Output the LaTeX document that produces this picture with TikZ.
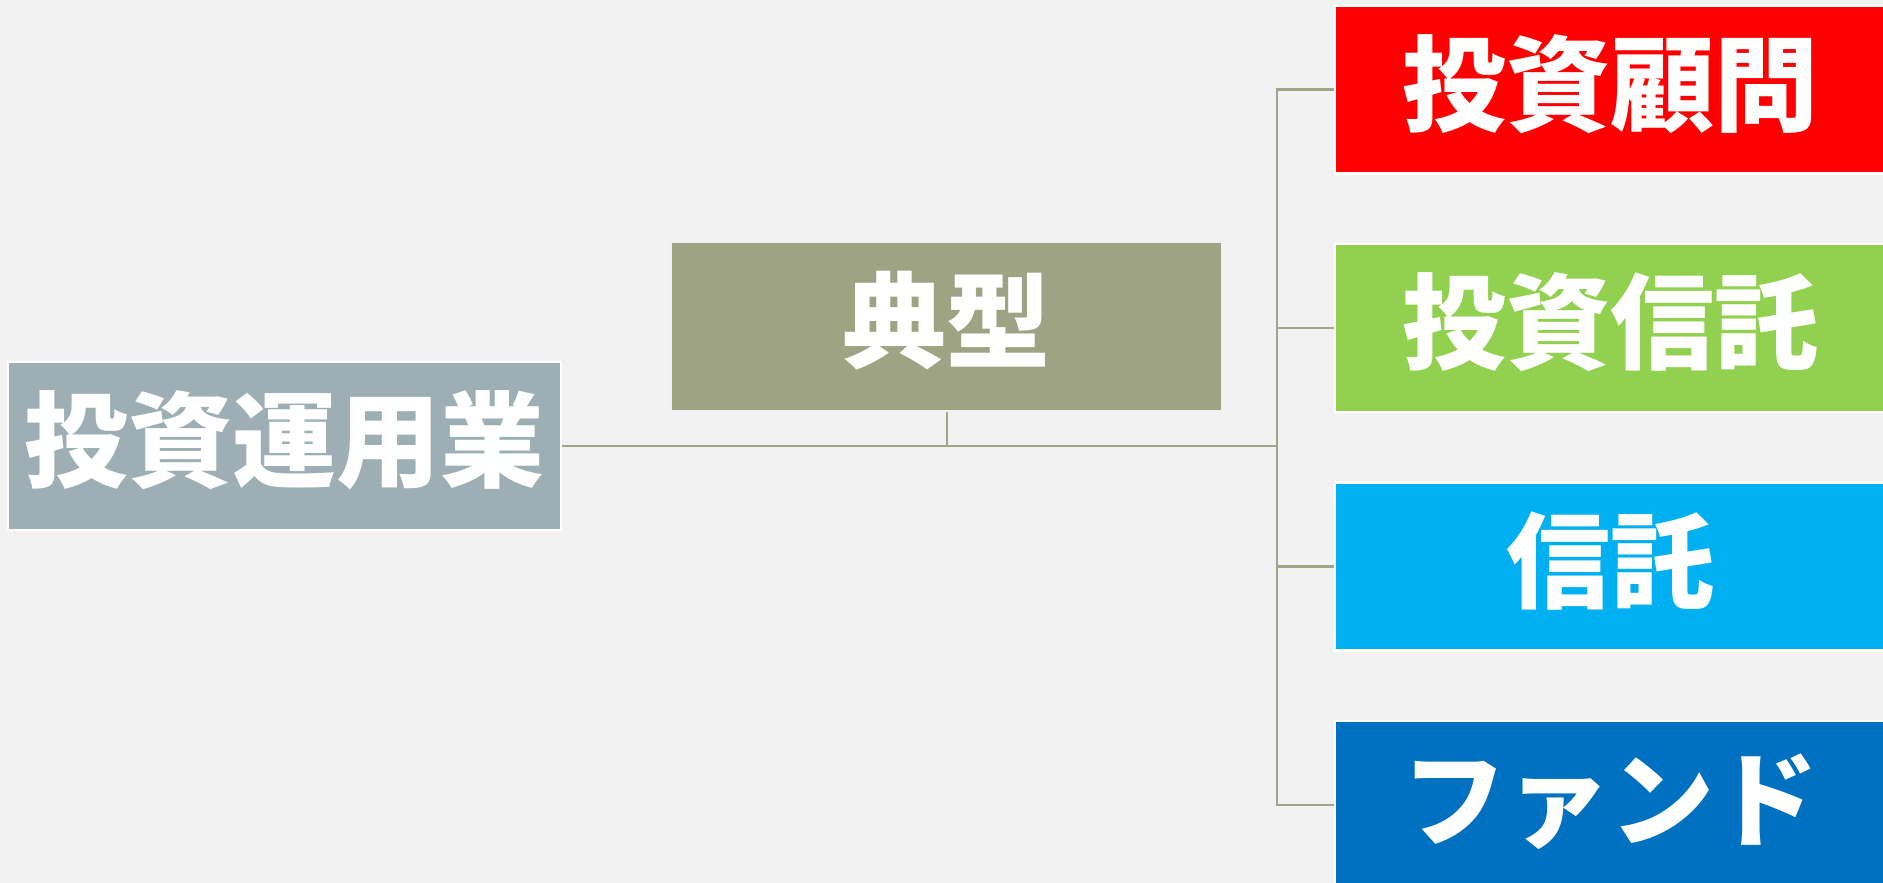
\documentclass[tikz,border=0pt]{standalone}
\usepackage{fontspec}
\newfontfamily\cjk{Noto Sans CJK JP}
\definecolor{bg}{HTML}{F2F2F2}
\definecolor{leftcol}{HTML}{9DAFB5}
\definecolor{midcol}{HTML}{9DA383}
\definecolor{linecol}{HTML}{A0A688}
\definecolor{redcol}{HTML}{FF0000}
\definecolor{greencol}{HTML}{92D050}
\definecolor{cyancol}{HTML}{00B0F0}
\definecolor{bluecol}{HTML}{0070C0}
\begin{document}
\begin{tikzpicture}[x=1pt,y=-1pt,
  box/.style={rectangle, minimum width=551pt, minimum height=168pt, draw=white,
    line width=2.5pt, text=white, inner sep=0pt, text height=90pt, text depth=23pt,
    font=\cjk\bfseries\fontsize{104}{110}\selectfont},
  conn/.style={draw=linecol, line width=2.8pt, line join=miter}]
\fill[bg] (0,0) rectangle (1883,883);
\useasboundingbox (0,0) rectangle (1883,883);
\clip (0,0) rectangle (1883,883);

\node[box, fill=leftcol, minimum width=553pt] (left) at (284.5,446) {投資運用業};
\node[box, fill=midcol, draw=white!88!gray, minimum height=169pt] (mid) at (946.5,326.5) {典型};
\node[box, fill=redcol] (r1) at (1610.5,89.5) {投資顧問};
\node[box, fill=greencol] (r2) at (1610.5,328) {投資信託};
\node[box, fill=cyancol] (r3) at (1610.5,566.5) {信託};
\node[box, fill=bluecol] (r4) at (1610.5,805) {ファンド};

\coordinate (j) at (1277,446);
\draw[conn] (left.east) -- (j);
\draw[conn, line width=2pt] (mid.south) -- (mid.south |- j);
\draw[conn] (r1.west) -- (r1.west -| j) -- (r4.west -| j) -- (r4.west);
\draw[conn] (r2.west -| j) -- (r2.west);
\draw[conn] (r3.west -| j) -- (r3.west);
\end{tikzpicture}
\end{document}
